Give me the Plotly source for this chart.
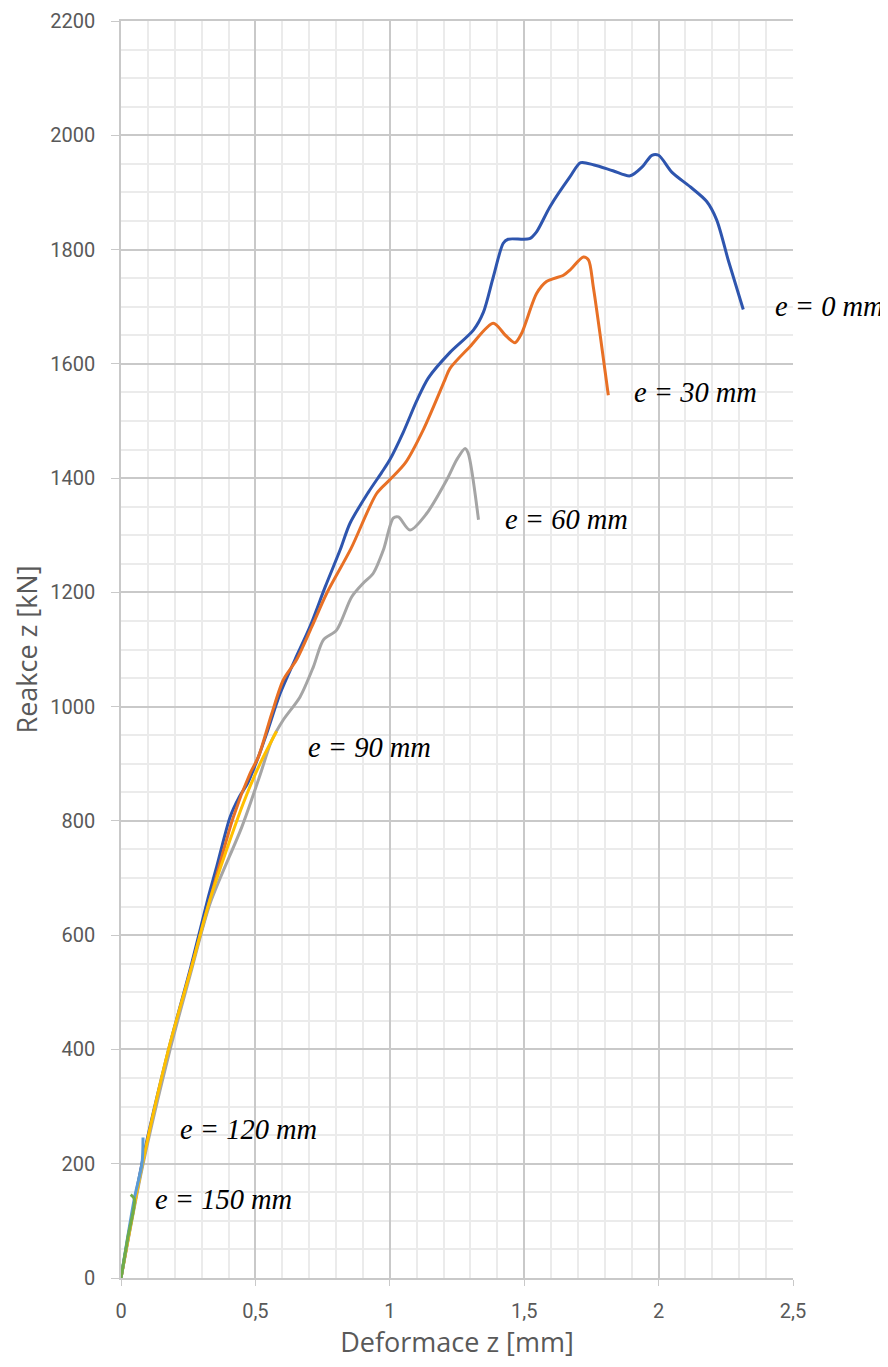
import plotly.graph_objects as go

# e = 0 mm
x_e0 = [0, 0.08, 0.18, 0.26, 0.325, 0.356, 0.406, 0.44, 0.47, 0.511, 0.542, 0.592, 0.647, 0.703, 0.76, 0.815,
        0.852, 0.92, 0.97, 1.0, 1.05, 1.1, 1.143, 1.224, 1.311, 1.348, 1.385, 1.422, 1.44, 1.52, 1.546, 1.596,
        1.67, 1.71, 1.76, 1.83, 1.894, 1.94, 1.975, 2.0, 2.05, 2.117, 2.179, 2.216, 2.26, 2.315]
y_e0 = [0, 205, 405, 545, 667, 720, 807, 842, 865, 912, 953, 1023, 1082, 1140, 1210, 1274,
        1321, 1375, 1410, 1432, 1480, 1535, 1575, 1620, 1659, 1690, 1752, 1811, 1818, 1819, 1831, 1875,
        1927, 1952, 1948, 1938, 1929, 1945, 1965, 1965, 1935, 1910, 1884, 1852, 1780, 1695]

# e = 30 mm
x_e30 = [0, 0.08, 0.18, 0.26, 0.33, 0.418, 0.48, 0.511, 0.561, 0.604, 0.653, 0.71, 0.765, 0.855, 0.951, 1.0,
         1.057, 1.124, 1.205, 1.224, 1.298, 1.385, 1.43, 1.466, 1.49, 1.546, 1.583, 1.646, 1.67, 1.72, 1.739,
         1.757, 1.813]
y_e30 = [0, 200, 400, 540, 660, 807, 883, 912, 988, 1047, 1082, 1140, 1198, 1276, 1373, 1397,
         1426, 1484, 1572, 1592, 1630, 1671, 1650, 1637, 1653, 1723, 1744, 1755, 1764, 1787, 1782,
         1735, 1545]

# e = 60 mm
x_e60 = [0, 0.08, 0.18, 0.26, 0.331, 0.45, 0.517, 0.56, 0.604, 0.666, 0.716, 0.753, 0.802, 0.858, 0.901,
         0.938, 0.976, 1.013, 1.032, 1.075, 1.137, 1.212, 1.249, 1.28, 1.292, 1.33]
y_e60 = [0, 195, 395, 535, 655, 790, 880, 940, 977, 1017, 1070, 1117, 1134, 1192, 1216,
         1233, 1274, 1330, 1332, 1309, 1338, 1397, 1432, 1452, 1443, 1327]

# e = 90 mm
x_e90 = [0, 0.08, 0.176, 0.26, 0.331, 0.455, 0.517, 0.579]
y_e90 = [0, 200, 399, 540, 662, 831, 900, 957]

# e = 120 mm
x_e120 = [0, 0.05, 0.078, 0.082]
y_e120 = [0, 140, 200, 246]

# e = 150 mm
x_e150 = [0, 0.025, 0.05, 0.036]
y_e150 = [0, 70, 138, 146]

series = [
    ("e = 0 mm", x_e0, y_e0, "#2E55AE"),
    ("e = 30 mm", x_e30, y_e30, "#E87025"),
    ("e = 60 mm", x_e60, y_e60, "#A5A5A5"),
    ("e = 90 mm", x_e90, y_e90, "#FFC000"),
    ("e = 120 mm", x_e120, y_e120, "#5B9BD5"),
    ("e = 150 mm", x_e150, y_e150, "#70AD47"),
]

labels = ["e = 0 mm", "e = 30 mm", "e = 60 mm", "e = 90 mm", "e = 120 mm", "e = 150 mm"]
label_x = [2.426, 1.902, 1.421, 0.688, 0.212, 0.119]
label_y = [1701, 1550, 1328, 929, 260, 138]

x_tickvals = [0, 0.5, 1, 1.5, 2, 2.5]
x_ticktext = ["0", "0,5", "1", "1,5", "2", "2,5"]
y_tickvals = [0, 200, 400, 600, 800, 1000, 1200, 1400, 1600, 1800, 2000, 2200]
y_ticktext = [str(v) for v in y_tickvals]

fig = go.Figure()
for name, xs, ys, col in series:
    fig.add_trace(go.Scatter(x=xs, y=ys, mode="lines", name=name,
                             line=dict(color=col, width=3, shape="spline", smoothing=0.8),
                             showlegend=False))

for t, lx, ly in zip(labels, label_x, label_y):
    fig.add_annotation(x=lx, y=ly, xref="x", yref="y", text=t, showarrow=False,
                       xanchor="left", yanchor="middle",
                       font=dict(family="Liberation Serif", size=28.5, color="black", style="italic"))

fig.update_layout(
    width=880, height=1359,
    margin=dict(l=113, r=95, t=13, b=89, autoexpand=False),
    paper_bgcolor="white", plot_bgcolor="white",
    font=dict(family="Open Sans", color="#595959"),
    xaxis=dict(range=[0, 2.5], tickvals=x_tickvals, ticktext=x_ticktext, automargin=False,
               showgrid=True, gridcolor="#C9C9C9", gridwidth=1.5,
               minor=dict(dtick=0.1, tick0=0, showgrid=True, gridcolor="#EBEBEB", gridwidth=1.5),
               zeroline=False, showline=True, mirror=True, linecolor="#C9C9C9", linewidth=1.5,
               ticks="outside", ticklen=6, tickcolor="#C9C9C9",
               ticklabelstandoff=8,
               tickfont=dict(family="Roboto", size=20, color="#595959"),
               title=dict(text="Deformace z [mm]", font=dict(size=27, color="#595959"), standoff=6)),
    yaxis=dict(range=[0, 2200], tickvals=y_tickvals, ticktext=y_ticktext, automargin=False,
               showgrid=True, gridcolor="#C9C9C9", gridwidth=1.5,
               minor=dict(dtick=50, tick0=0, showgrid=True, gridcolor="#EBEBEB", gridwidth=1.5),
               zeroline=False, showline=True, linecolor="#C9C9C9", linewidth=1.5,
               ticks="outside", ticklen=8, tickcolor="#C9C9C9",
               ticklabelstandoff=12,
               tickfont=dict(family="Roboto", size=20, color="#595959"),
               title=dict(text="Reakce z [kN]", font=dict(size=27, color="#595959"), standoff=6)),
)

fig.write_html("out.html")
